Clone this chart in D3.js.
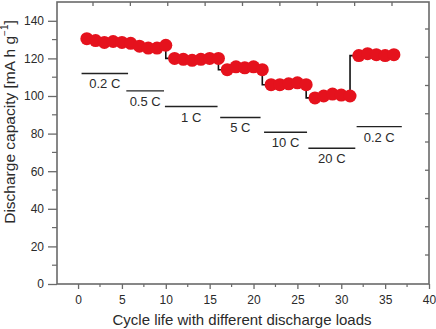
<!DOCTYPE html>
<html>
<head>
<meta charset="utf-8">
<script src="https://cdn.jsdelivr.net/npm/d3@7"></script>
<style>
  html, body { margin: 0; padding: 0; background: #fff; }
  svg { display: block; font-family: "Liberation Sans", Arial, Helvetica, sans-serif; }
</style>
</head>
<body>
<svg id="chart" width="436" height="329"></svg>
<script>
// ---- data ----
const cycles = [1,2,3,4,5,6,7,8,9,10,11,12,13,14,15,16,17,18,19,20,21,22,23,24,25,26,27,28,29,30,31,32,33,34,35,36];
const capacity = [130.5,129.5,128.5,129,128.5,128,126.5,125.5,125.5,127,
                  120,119.5,119,119.5,120,120,
                  114,115.5,115,115.5,114,
                  106,106,106.5,107,106,
                  99,100,101,100.5,100,
                  121.5,122.5,122,121.5,122];
const rateLabels = ["0.2 C","0.5 C","1 C","5 C","10 C","20 C","0.2 C"];
const rateStart  = [0.4, 5.5, 9.9, 16.2, 21.2, 26.25, 31.75];
const rateEnd    = [5.7, 9.8, 15.9, 20.8, 26.1, 31.6, 36.9];
const rateLevel  = [112, 102.7, 94.4, 88.6, 80.7, 72.2, 83.7];
const xTicks = [0,5,10,15,20,25,30,35,40];
const yTicks = [0,20,40,60,80,100,120,140];
const xTitle = "Cycle life with different discharge loads";

// ---- layout ----
const L = 57, R = 429, T = 2, B = 284;
const svg = d3.select("#chart");
const x = d3.scaleLinear().domain([-2.4, 40]).range([L, R]);
const y = d3.scaleLinear().domain([0, 150]).range([B, T]);
const axisColor = "#6a6a6a";
const textColor = "#2a2a2a";

// frame
svg.append("rect").attr("x", L).attr("y", T).attr("width", R - L).attr("height", B - T)
  .attr("fill", "none").attr("stroke", axisColor).attr("stroke-width", 1.6);

// decorative inner ticks on top and right (secondary frame ticks)
const topScale = d3.scaleLinear().domain([0, 8]).range([93, 392]);
const rightScale = d3.scaleLinear().domain([0, 8]).range([255, 29]);
const sec = d3.range(0, 9);
svg.append("g").selectAll("line").data(sec).join("line")
  .attr("x1", d => topScale(d)).attr("x2", d => topScale(d))
  .attr("y1", T).attr("y2", T + 4).attr("stroke", axisColor).attr("stroke-width", 1.3);
svg.append("g").selectAll("line").data(sec).join("line")
  .attr("y1", d => rightScale(d)).attr("y2", d => rightScale(d))
  .attr("x1", R).attr("x2", R - 4).attr("stroke", axisColor).attr("stroke-width", 1.3);

// bottom axis
const gx = svg.append("g").attr("transform", `translate(0,${B})`);
gx.selectAll("line.minor").data(d3.range(2.5, 40, 2.5).filter(v => v % 5 !== 0)).join("line")
  .attr("class", "minor").attr("x1", d => x(d)).attr("x2", d => x(d)).attr("y1", 0).attr("y2", 3)
  .attr("stroke", axisColor).attr("stroke-width", 1.2);
gx.call(d3.axisBottom(x).tickValues(xTicks).tickSize(5).tickPadding(6).tickFormat(d3.format("d")))
  .call(g => g.select(".domain").remove())
  .call(g => g.selectAll(".tick line").attr("stroke", axisColor).attr("stroke-width", 1.3))
  .call(g => g.selectAll(".tick text").attr("fill", textColor).attr("font-size", 12)
        .attr("font-family", "Liberation Sans, Arial, sans-serif"));

// left axis
const gy = svg.append("g").attr("transform", `translate(${L},0)`);
gy.selectAll("line.minor").data(d3.range(10, 150, 20)).join("line")
  .attr("class", "minor").attr("y1", d => y(d)).attr("y2", d => y(d)).attr("x1", 0).attr("x2", -5)
  .attr("stroke", axisColor).attr("stroke-width", 1.2);
gy.call(d3.axisLeft(y).tickValues(yTicks).tickSize(9).tickPadding(4).tickFormat(d3.format("d")))
  .call(g => g.select(".domain").remove())
  .call(g => g.selectAll(".tick line").attr("stroke", axisColor).attr("stroke-width", 1.3))
  .call(g => g.selectAll(".tick text").attr("fill", textColor).attr("font-size", 12)
        .attr("font-family", "Liberation Sans, Arial, sans-serif"));

// axis titles
svg.append("text").attr("x", (L + R) / 2 - 1).attr("y", 325).attr("text-anchor", "middle")
  .attr("font-size", 15).attr("fill", textColor).text(xTitle);
const yt = svg.append("text").attr("transform", "translate(15,122) rotate(-90)")
  .attr("text-anchor", "middle").attr("font-size", 15.5).attr("fill", textColor);
yt.append("tspan").text("Discharge capacity [mA h g");
yt.append("tspan").attr("font-size", 10).attr("dy", -7).text("\u22121");
yt.append("tspan").attr("dy", 7).text("]");

// rate marker lines and labels
const rates = rateLabels.map((l, i) => ({label: l, s: rateStart[i], e: rateEnd[i], v: rateLevel[i]}));
svg.append("g").selectAll("line").data(rates).join("line")
  .attr("x1", d => x(d.s)).attr("x2", d => x(d.e)).attr("y1", d => y(d.v)).attr("y2", d => y(d.v))
  .attr("stroke", "#222").attr("stroke-width", 1.4);
svg.append("g").selectAll("text").data(rates).join("text")
  .attr("x", d => x((d.s + d.e) / 2)).attr("y", d => y(d.v) + 15)
  .attr("text-anchor", "middle").attr("font-size", 13).attr("fill", textColor).text(d => d.label);

// data
const pts = cycles.map((c, i) => [c, capacity[i]]);
svg.append("path").datum(pts)
  .attr("d", d3.line().x(d => x(d[0])).y(d => y(d[1])).curve(d3.curveStepBefore))
  .attr("fill", "none").attr("stroke", "#111").attr("stroke-width", 1.6);
svg.append("g").selectAll("circle").data(pts).join("circle")
  .attr("cx", d => x(d[0])).attr("cy", d => y(d[1])).attr("r", 6.5)
  .attr("fill", "#e5121d");
</script>
</body>
</html>
